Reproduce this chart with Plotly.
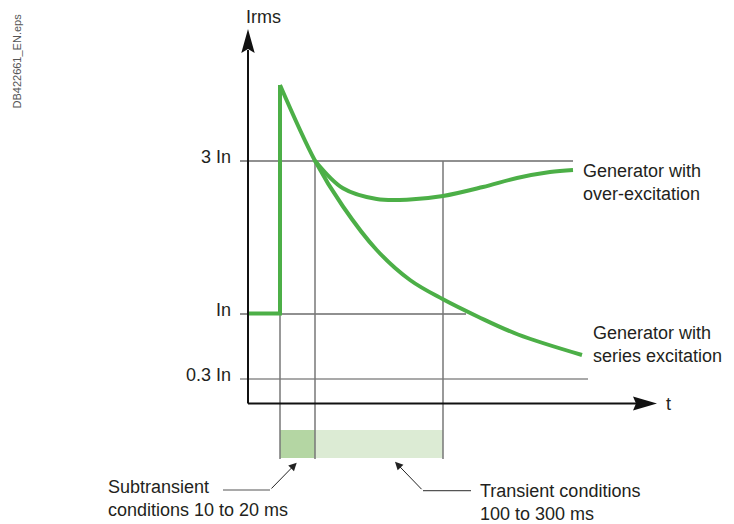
import plotly.graph_objects as go

# ---- data (schematic drawing units: t along time axis, y = Irms height) ----
level_labels = ["3 In", "In", "0.3 In"]
level_values = [243, 90, 25]
level_line_end = [325, 218, 340]

phase_edges = [32, 67, 195]          # 10 ms, 20 ms, 100-300 ms boundaries
phase_names = ["Subtransient", "Transient"]
phase_colors = ["#b4d6a3", "#dcebd4"]

base_t = [0, 32, 32]
base_y = [90.5, 90.5, 319]

series_t = [32, 67, 95, 128.7, 162, 195, 230, 270, 334]
series_y = [319, 243.3, 197.5, 154, 124, 104.7, 87.3, 69.5, 49]

over_t = [67, 95, 128.7, 162, 195, 235, 269, 302, 325]
over_y = [243.3, 215.7, 205, 204.5, 208, 217, 226, 232, 234]

curve_labels = ["Generator with<br>over-excitation", "Generator with<br>series excitation"]

GREEN = "#4caf47"
FONT = "Arial, Liberation Sans, sans-serif"
TXT = "#231f20"

fig = go.Figure()

Y_TOP = 351
X_END = 386
BAR_TOP, BAR_BOT = -26, -54

shapes = []
shapes.append(dict(type="rect", xref="x", yref="y", x0=phase_edges[0], x1=phase_edges[1],
                   y0=BAR_BOT, y1=BAR_TOP, fillcolor=phase_colors[0], line_width=0, layer="below"))
shapes.append(dict(type="rect", xref="x", yref="y", x0=phase_edges[1], x1=phase_edges[2],
                   y0=BAR_BOT, y1=BAR_TOP, fillcolor=phase_colors[1], line_width=0, layer="below"))
for v, e, c in zip(level_values, level_line_end, ["#222", "#222", "#555"]):
    shapes.append(dict(type="line", xref="x", yref="y", x0=-8, x1=e, y0=v, y1=v,
                       line=dict(color=c, width=1.2), layer="below"))
vtops = [level_values[1], level_values[0], level_values[0]]
for x, top in zip(phase_edges, vtops):
    shapes.append(dict(type="line", xref="x", yref="y", x0=x, x1=x, y0=top, y1=BAR_BOT - 1,
                       line=dict(color="#777", width=1.5), layer="below"))
shapes.append(dict(type="line", xref="x", yref="y", x0=0, x1=0, y0=0.5, y1=Y_TOP + 3,
                   line=dict(color="#111", width=2)))
shapes.append(dict(type="line", xref="x", yref="y", x0=0, x1=X_END + 2, y0=0.5, y1=0.5,
                   line=dict(color="#111", width=2)))
sub_knee = (22, -86)
tr_knee = (175, -86.7)
shapes.append(dict(type="line", xref="x", yref="y", x0=-25, x1=sub_knee[0], y0=sub_knee[1], y1=sub_knee[1],
                   line=dict(color="#555", width=1.2)))
shapes.append(dict(type="line", xref="x", yref="y", x0=tr_knee[0], x1=223, y0=tr_knee[1], y1=tr_knee[1],
                   line=dict(color="#555", width=1.2)))

fig.add_trace(go.Scatter(x=[0, -6.7, 0, 6.7, 0], y=[375, 351, 355, 351, 375], mode="lines",
                         fill="toself", fillcolor="#111", line=dict(width=0, color="#111"),
                         hoverinfo="skip", showlegend=False))
fig.add_trace(go.Scatter(x=[409, 385, 388, 385, 409], y=[0.5, 7.5, 0.5, -6.5, 0.5], mode="lines",
                         fill="toself", fillcolor="#111", line=dict(width=0, color="#111"),
                         hoverinfo="skip", showlegend=False))

fig.add_trace(go.Scatter(x=base_t, y=base_y, mode="lines", line=dict(color=GREEN, width=4),
                         showlegend=False, hoverinfo="skip"))
fig.add_trace(go.Scatter(x=series_t, y=series_y, mode="lines",
                         line=dict(color=GREEN, width=4, shape="spline", smoothing=1),
                         showlegend=False, hoverinfo="skip"))
fig.add_trace(go.Scatter(x=over_t, y=over_y, mode="lines",
                         line=dict(color=GREEN, width=4, shape="spline", smoothing=1),
                         showlegend=False, hoverinfo="skip"))

ann = []
f18 = dict(family=FONT, size=18, color=TXT)
for lab, v in zip(level_labels, level_values):
    ann.append(dict(x=-15, y=v + 4, text=lab, showarrow=False, xanchor="right", yanchor="middle", font=f18))
ann.append(dict(x=-4, y=387, text="Irms", showarrow=False, xanchor="left", yanchor="middle", font=f18))
ann.append(dict(x=416, y=0, text="t", showarrow=False, xanchor="left", yanchor="middle", font=f18))
ann.append(dict(x=333, y=222, text=curve_labels[0], showarrow=False, xanchor="left", yanchor="middle",
                align="left", font=f18))
ann.append(dict(x=343, y=59.5, text=curve_labels[1], showarrow=False, xanchor="left", yanchor="middle",
                align="left", font=f18))
ann.append(dict(x=-142, y=-94.5, text=phase_names[0] + "<br>conditions 10 to 20 ms",
                showarrow=False, xanchor="left", yanchor="middle", align="left", font=f18))
ann.append(dict(x=230, y=-98.5, text=phase_names[1] + " conditions<br>100 to 300 ms", showarrow=False,
                xanchor="left", yanchor="middle", align="left", font=f18))
ann.append(dict(x=-231.5, y=343, text="DB422661_EN.eps", textangle=-90, showarrow=False,
                xanchor="center", yanchor="middle", font=dict(family=FONT, size=11, color="#555")))
ann.append(dict(x=48.7, y=-58.7, ax=sub_knee[0], ay=sub_knee[1], axref="x", ayref="y", xref="x", yref="y",
                text="", showarrow=True, arrowhead=2, arrowsize=1.6, arrowwidth=1, arrowcolor="#222"))
ann.append(dict(x=147, y=-57.7, ax=tr_knee[0], ay=tr_knee[1], axref="x", ayref="y", xref="x", yref="y",
                text="", showarrow=True, arrowhead=2, arrowsize=1.6, arrowwidth=1, arrowcolor="#222"))

fig.update_layout(
    width=734, height=524, margin=dict(l=0, r=0, t=0, b=0),
    paper_bgcolor="white", plot_bgcolor="white",
    xaxis=dict(range=[-248, 486], visible=False, fixedrange=True),
    yaxis=dict(range=[-120, 404], visible=False, fixedrange=True),
    shapes=shapes, annotations=ann, showlegend=False,
)
fig.write_html("out.html", config={"displayModeBar": False},
               post_script="document.body.style.margin='0px';document.body.style.overflow='hidden';")
